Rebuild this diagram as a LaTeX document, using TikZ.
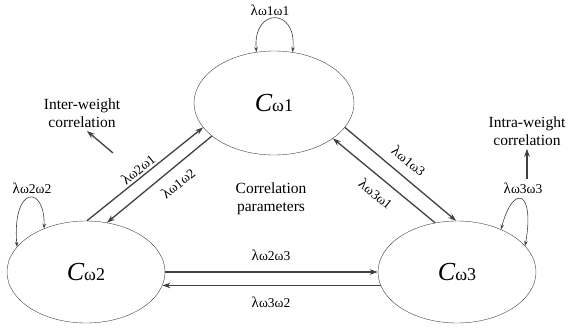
\documentclass[tikz,border=0pt]{standalone}
\usepackage{fontspec}
\setmainfont{Liberation Serif}
\usetikzlibrary{shapes.geometric,arrows.meta}
\newcommand{\lam}[2]{{\fontsize{15}{15}\selectfont λ}{\fontsize{13.5}{14}\selectfont ω#1ω#2}}
\newcommand{\cw}[1]{{\fontsize{26}{26}\selectfont\itshape C}{\fontsize{18}{18}\selectfont ω#1}}
\begin{document}
\begin{tikzpicture}[x=1pt,y=-1pt,
  state/.style={draw=black!75,ellipse,minimum width=160pt,minimum height=104pt,inner sep=0pt},
  link/.style={draw=black!75,line width=1.3pt,-{Stealth[length=8pt,width=5.5pt]}},
  selfarc/.style={draw=black!75,line width=0.6pt,{Stealth[length=5pt,width=3.5pt]}-{Stealth[length=5pt,width=3.5pt]}},
  txt/.style={align=center,font=\fontsize{15.5}{17.5}\selectfont}]
  \useasboundingbox (0,0) rectangle (568,329);
  \node[state] (c1) at (274,103) {\cw{1}};
  \node[state,minimum width=158pt,minimum height=102pt] (c2) at (86,272) {\cw{2}};
  \node[state,minimum width=158pt,minimum height=102pt] (c3) at (457,272) {\cw{3}};

  \node (l11) at (270,10) {\lam{1}{1}};
  \node (l22) at (32,188) {\lam{2}{2}};
  \node (l33) at (523,188) {\lam{3}{3}};
  \node[rotate=39] (l21) at (138,169) {\lam{2}{1}};
  \node[rotate=39] (l12) at (178,183) {\lam{1}{2}};
  \node[rotate=-39] (l13) at (409,161) {\lam{1}{3}};
  \node[rotate=-39] (l31) at (376,194) {\lam{3}{1}};
  \node (l23) at (271,255) {\lam{2}{3}};
  \node (l32) at (271,302) {\lam{3}{2}};

  \node[txt] (par) at (271,199) {Correlation\\parameters};
  \node[txt] (inter) at (82,113) {Inter-weight\\correlation};
  \node[txt] (intra) at (527,131) {Intra-weight\\correlation};

  % transitions
  \draw[link] (c2.89) -- (c1.199);
  \draw[link] (c1.208) -- (c2.67);
  \draw[link] (c1.341) -- (c3.91);
  \draw[link] (c3.114) -- (c1.329);
  \draw[link] (c2.east) -- (c3.west);
  \draw[link] (c3.190) -- (c2.-10);

  % self loops
  \draw[selfarc] (c1.109) .. controls +(-4,-45) and +(5,-45) .. (c1.70);
  \draw[selfarc] (c2.160) .. controls +(-5,-62) and +(1,-44) .. (c2.134);
  \draw[selfarc] (c3.44) .. controls +(12,-46) and +(10,-56) .. (c3.21);

  % pointers to the notes
  \coordinate (ia) at (113,153);
  \coordinate (ib) at (87,131);
  \draw[link] (ia) -- (ib);
  \draw[link] (intra.south |- l33.north) -- (intra.south);
\end{tikzpicture}
\end{document}
